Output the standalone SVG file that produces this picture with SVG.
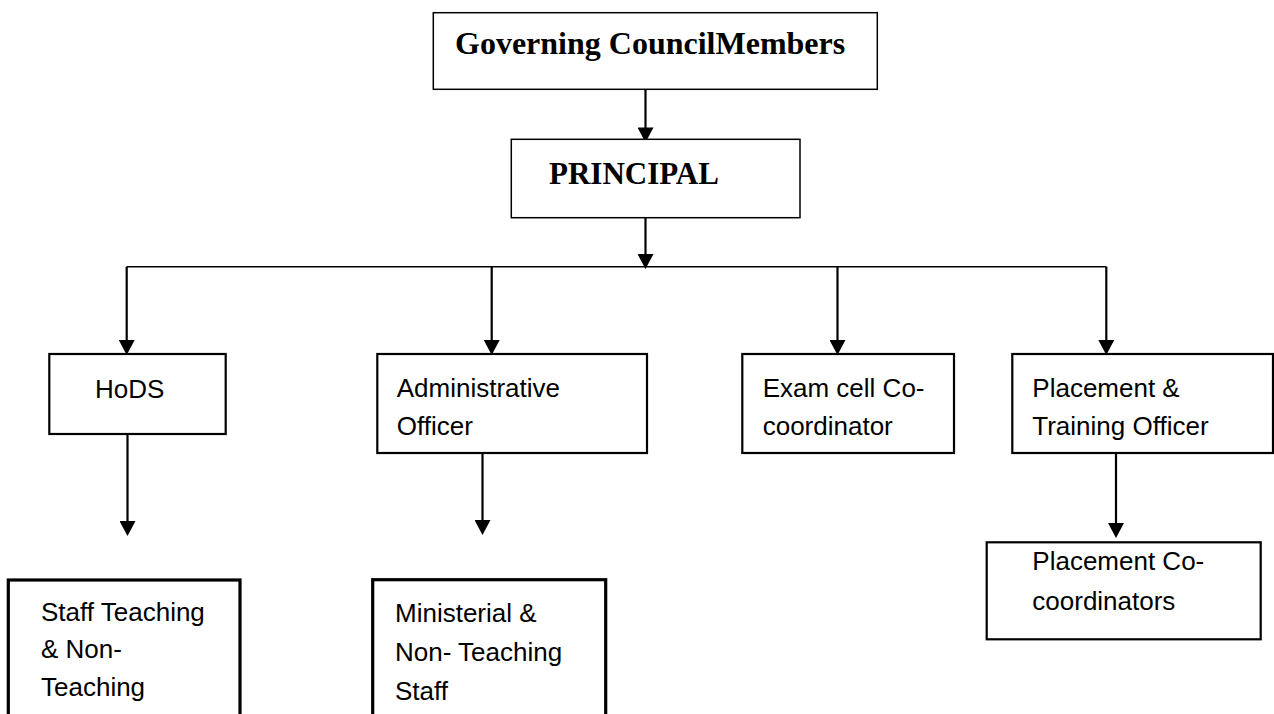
<svg xmlns="http://www.w3.org/2000/svg" width="1274" height="714" viewBox="0 0 1274 714">
<style>
.box{fill:#fff;stroke:#000}
.thin{stroke-width:1.5}
.mid{stroke-width:2.2}
.thick{stroke-width:3.2}
.tb{font-family:"Liberation Serif","Times New Roman",serif;font-weight:bold;fill:#000}
.t{font-family:"Liberation Sans",Arial,sans-serif;font-size:26px;fill:#000}
.c{fill:none;stroke:#000;stroke-width:2.2}
.bus{fill:none;stroke:#000;stroke-width:1.6}
</style>
<defs>
<marker id="ah" markerUnits="userSpaceOnUse" markerWidth="16" markerHeight="16" viewBox="0 0 15 16" refX="11" refY="8" orient="auto">
<path d="M0,0 L15,8 L0,16 Z" fill="#000"/>
</marker>
</defs>
<rect width="1274" height="714" fill="#fff"/>
<g id="connectors">
<path class="c" d="M645.5,89 V138.5" marker-end="url(#ah)"/>
<path class="c" d="M645.5,218 V265" marker-end="url(#ah)"/>
<path class="bus" d="M126.7,266.7 H1106.3"/>
<path class="c" d="M126.7,266.7 V351" marker-end="url(#ah)"/>
<path class="c" d="M491.7,266.7 V351" marker-end="url(#ah)"/>
<path class="c" d="M837.5,266.7 V351" marker-end="url(#ah)"/>
<path class="c" d="M1106.3,266.7 V351" marker-end="url(#ah)"/>
<path class="c" d="M127.5,434 V532" marker-end="url(#ah)"/>
<path class="c" d="M482.5,453 V531" marker-end="url(#ah)"/>
<path class="c" d="M1116,453 V534" marker-end="url(#ah)"/>
</g>
<g id="governing">
<rect class="box thin" x="433.3" y="12.7" width="444" height="76.6"/>
<text class="tb" x="455" y="54" font-size="32">Governing CouncilMembers</text>
</g>
<g id="principal">
<rect class="box thin" x="511.3" y="139.3" width="288.7" height="78.4"/>
<text class="tb" x="549" y="183.5" font-size="31">PRINCIPAL</text>
</g>
<g id="hods">
<rect class="box mid" x="49.3" y="354" width="176.4" height="80"/>
<text class="t" x="95" y="397.7">HoDS</text>
</g>
<g id="admin">
<rect class="box mid" x="377.3" y="354" width="269.7" height="99"/>
<text class="t" x="396.7" y="396.7">Administrative</text>
<text class="t" x="396.7" y="435">Officer</text>
</g>
<g id="exam">
<rect class="box mid" x="742.3" y="354" width="211.7" height="99"/>
<text class="t" x="762.7" y="396.7">Exam cell Co-</text>
<text class="t" x="762.7" y="435">coordinator</text>
</g>
<g id="placement">
<rect class="box mid" x="1012.3" y="354" width="260.7" height="99"/>
<text class="t" x="1032.3" y="396.7">Placement &amp;</text>
<text class="t" x="1032.3" y="435">Training Officer</text>
</g>
<g id="staff">
<rect class="box thick" x="8.3" y="580" width="231.7" height="150"/>
<text class="t" x="41" y="621">Staff Teaching</text>
<text class="t" x="41" y="658">&amp; Non-</text>
<text class="t" x="41" y="696">Teaching</text>
</g>
<g id="ministerial">
<rect class="box thick" x="372.7" y="579.7" width="233" height="150"/>
<text class="t" x="395" y="621.5">Ministerial &amp;</text>
<text class="t" x="395" y="661">Non- Teaching</text>
<text class="t" x="395" y="700">Staff</text>
</g>
<g id="placement-co">
<rect class="box mid" x="986.7" y="542.3" width="274" height="97"/>
<text class="t" x="1032.3" y="570">Placement Co-</text>
<text class="t" x="1032.3" y="610">coordinators</text>
</g>
</svg>
